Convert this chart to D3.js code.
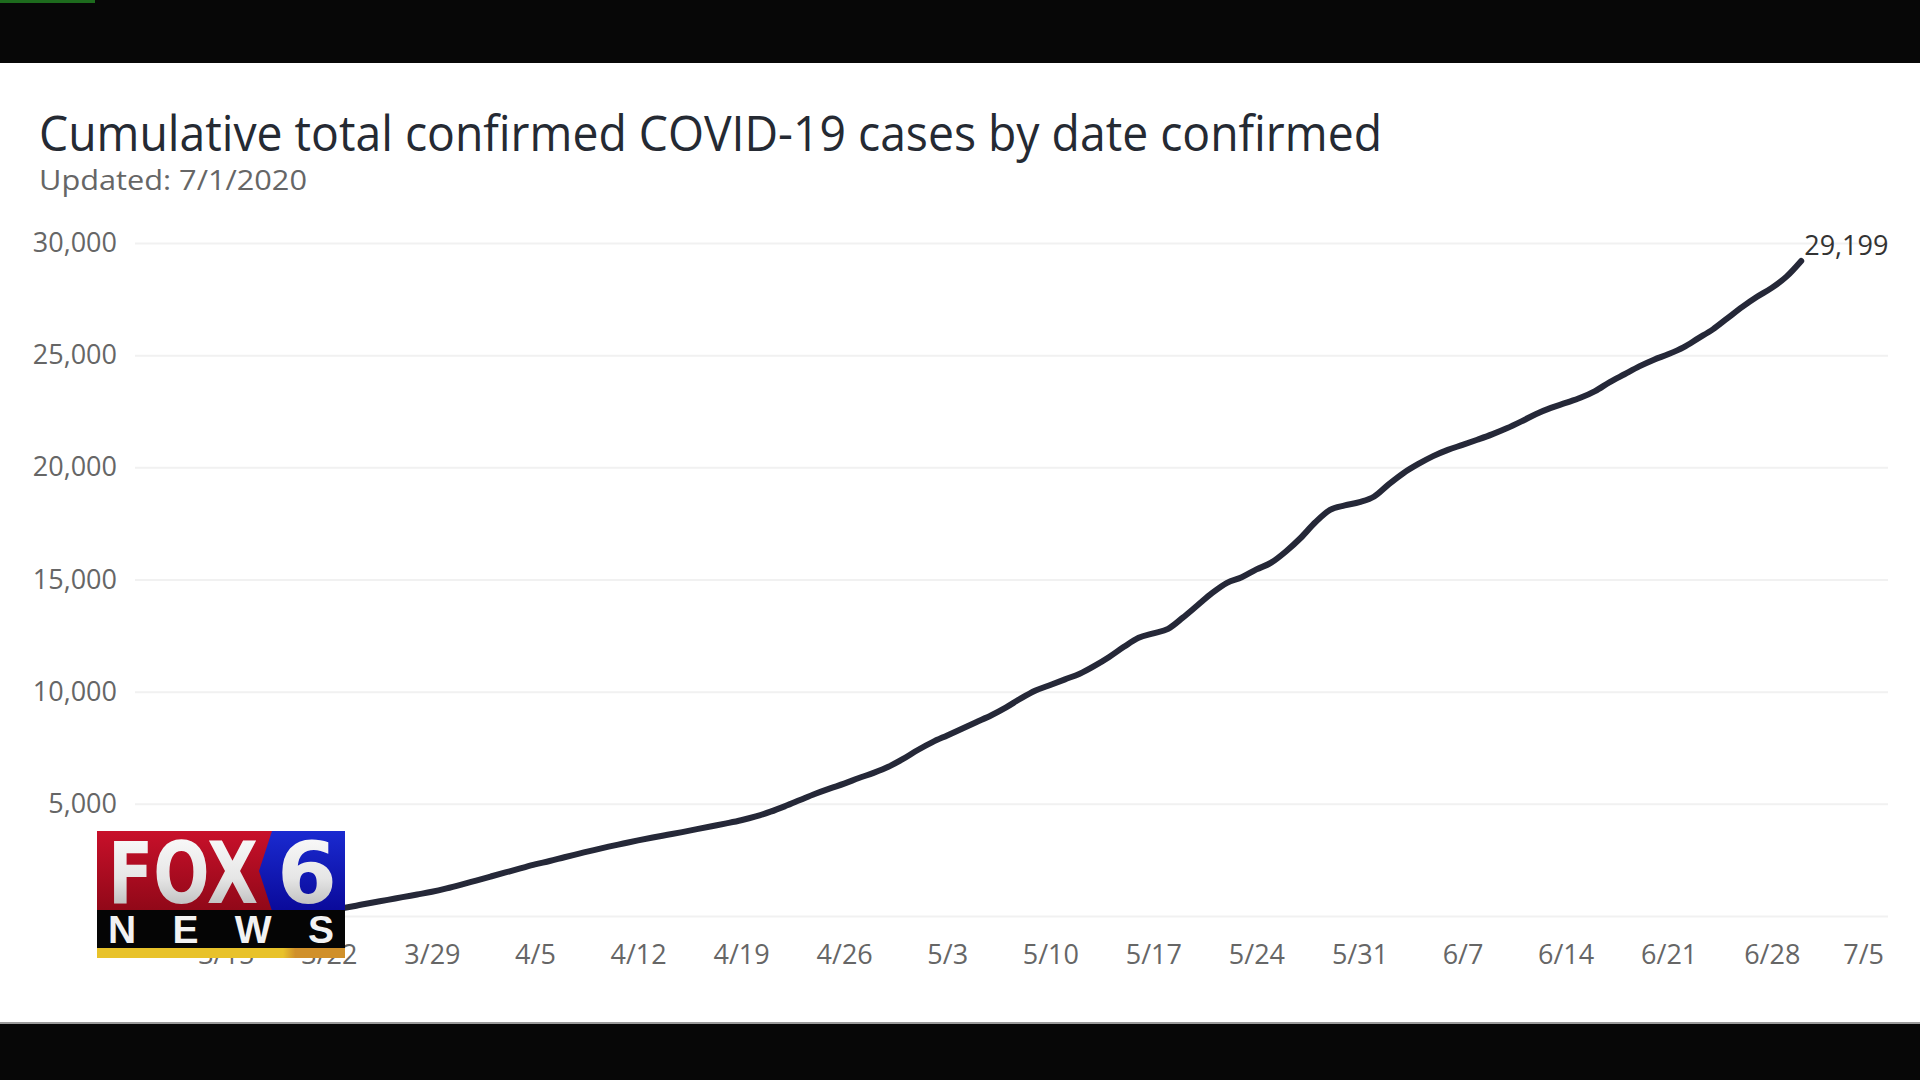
<!DOCTYPE html>
<html>
<head>
<meta charset="utf-8">
<script src="https://cdn.jsdelivr.net/npm/d3@7"></script>
<style>
  body { margin: 0; background: #ffffff; }
  svg { display: block; }
  .axis text { font-family: "Open Sans", sans-serif; font-size: 27px; fill: #666666; }
  .axis .domain { display: none; }
</style>
</head>
<body>
<script>
//chart data
var dates = ["3/9","3/10","3/11","3/12","3/13","3/14","3/15","3/16","3/17","3/18","3/19","3/20","3/21","3/22","3/23","3/24","3/25","3/26","3/27","3/28","3/29","3/30","3/31",
  "4/1","4/2","4/3","4/4","4/5","4/6","4/7","4/8","4/9","4/10","4/11","4/12","4/13","4/14","4/15","4/16","4/17","4/18","4/19","4/20","4/21","4/22","4/23","4/24","4/25","4/26","4/27","4/28","4/29","4/30",
  "5/1","5/2","5/3","5/4","5/5","5/6","5/7","5/8","5/9","5/10","5/11","5/12","5/13","5/14","5/15","5/16","5/17","5/18","5/19","5/20","5/21","5/22","5/23","5/24","5/25","5/26","5/27","5/28","5/29","5/30","5/31",
  "6/1","6/2","6/3","6/4","6/5","6/6","6/7","6/8","6/9","6/10","6/11","6/12","6/13","6/14","6/15","6/16","6/17","6/18","6/19","6/20","6/21","6/22","6/23","6/24","6/25","6/26","6/27","6/28","6/29","6/30"];
var cases = [5,8,12,20,30,45,65,90,120,155,195,240,285,320,360,480,600,720,840,960,1080,1230,1400,
  1580,1760,1940,2120,2300,2450,2620,2780,2940,3090,3230,3370,3500,3620,3740,3870,4000,4130,4270,4440,4650,4900,5170,5440,5680,5900,6150,6380,6650,7000,
  7400,7750,8050,8350,8650,8950,9300,9700,10050,10300,10550,10800,11150,11550,12000,12400,12600,12800,13300,13850,14400,14850,15100,15450,15750,16250,16850,17550,18100,18300,18450,
  18700,19250,19750,20150,20500,20780,21000,21230,21470,21740,22050,22380,22650,22870,23100,23400,23800,24150,24500,24800,25050,25350,25750,26150,26650,27150,27600,28000,28500,29199];
var yTicks = [0, 5000, 10000, 15000, 20000, 25000, 30000];
var titleText = "Cumulative total confirmed COVID-19 cases by date confirmed";
var subtitleText = "Updated: 7/1/2020";

window.onload = function(){
  var w = 1920, h = 1080;
  var parse = function(s){ var p = s.split("/"); return new Date(2020, +p[0] - 1, +p[1]); };
  var data = dates.map(function(d, i){ return {date: parse(d), value: cases[i]}; });
  var format = d3.format(",");

  var svg = d3.select("body").append("svg")
      .attr("width", w)
      .attr("height", h);

  //white page and the black video bars
  svg.append("rect").attr("width", w).attr("height", h).attr("fill", "#ffffff");
  svg.append("rect").attr("width", w).attr("height", 63).attr("fill", "#070707");
  svg.append("rect").attr("width", 95).attr("height", 3).attr("fill", "#1d6b1d");
  svg.append("rect").attr("y", 1022).attr("width", w).attr("height", 2).attr("fill", "#9a9a9a");
  svg.append("rect").attr("y", 1024).attr("width", w).attr("height", 56).attr("fill", "#070707");

  //scales
  var x = d3.scaleTime()
      .domain([new Date(2020, 2, 8, 20), new Date(2020, 6, 6, 4)])
      .range([135, 1892]);
  var y = d3.scaleLinear()
      .domain([0, 30000])
      .range([916, 243]);

  //title block
  svg.append("text")
      .attr("x", 39).attr("y", 151)
      .attr("font-family", "Open Sans, sans-serif")
      .attr("font-size", 49)
      .attr("fill", "#252a33")
      .attr("textLength", 1343)
      .attr("lengthAdjust", "spacingAndGlyphs")
      .text(titleText);
  svg.append("text")
      .attr("x", 39).attr("y", 190)
      .attr("font-family", "Open Sans, sans-serif")
      .attr("font-size", 28)
      .attr("fill", "#666666")
      .attr("textLength", 268)
      .attr("lengthAdjust", "spacingAndGlyphs")
      .text(subtitleText);

  //y axis with gridlines
  var yAxis = svg.append("g")
      .attr("class", "axis")
      .attr("transform", "translate(135,0)")
      .call(d3.axisLeft(y)
          .tickValues(yTicks)
          .tickSize(-(1888 - 135))
          .tickPadding(18)
          .tickFormat(format));
  yAxis.selectAll("line").attr("stroke", "#f1f1f1").attr("stroke-width", 2);

  //x axis, weekly labels
  var xAxis = svg.append("g")
      .attr("class", "axis")
      .attr("transform", "translate(0,916)")
      .call(d3.axisBottom(x)
          .ticks(d3.timeWeek.every(1))
          .tickSize(0)
          .tickPadding(29)
          .tickFormat(d3.timeFormat("%-m/%-d")));
  //keep the last label inside the plot
  xAxis.selectAll(".tick text").each(function(){
      var b = this.getBBox();
      var t = d3.select(this.parentNode).attr("transform");
      var tx = +t.match(/translate\(([-\d.]+)/)[1];
      if (tx + b.x + b.width > 1884) {
          d3.select(this).attr("x", 1884 - (tx + b.x + b.width));
      }
  });

  //the line
  var line = d3.line()
      .x(function(d){ return x(d.date); })
      .y(function(d){ return y(d.value); })
      .curve(d3.curveMonotoneX);
  svg.append("path")
      .datum(data)
      .attr("d", line)
      .attr("fill", "none")
      .attr("stroke", "#252838")
      .attr("stroke-width", 6)
      .attr("stroke-linecap", "round")
      .attr("stroke-linejoin", "round");

  //label on the last point
  var last = data[data.length - 1];
  svg.append("text")
      .attr("x", x(last.date) + 3)
      .attr("y", y(last.value) - 6)
      .attr("font-family", "Open Sans, sans-serif")
      .attr("font-size", 27)
      .attr("fill", "#333333")
      .text(format(last.value));

  //broadcast logo in the corner
  var defs = svg.append("defs");
  var gRed = defs.append("linearGradient").attr("id", "gRed").attr("x1", 0).attr("y1", 0).attr("x2", 0).attr("y2", 1);
  gRed.append("stop").attr("offset", "0").attr("stop-color", "#c8102a");
  gRed.append("stop").attr("offset", "1").attr("stop-color", "#900818");
  var gBlue = defs.append("linearGradient").attr("id", "gBlue").attr("x1", 0).attr("y1", 0).attr("x2", 0).attr("y2", 1);
  gBlue.append("stop").attr("offset", "0").attr("stop-color", "#1a2ad0");
  gBlue.append("stop").attr("offset", "1").attr("stop-color", "#0a0a9a");
  var gSilver = defs.append("linearGradient").attr("id", "gSilver").attr("x1", 0).attr("y1", 0).attr("x2", 0).attr("y2", 1);
  gSilver.append("stop").attr("offset", "0").attr("stop-color", "#ffffff");
  gSilver.append("stop").attr("offset", "0.55").attr("stop-color", "#e6e6e6");
  gSilver.append("stop").attr("offset", "1").attr("stop-color", "#a8a8a8");
  var gGold = defs.append("linearGradient").attr("id", "gGold").attr("x1", 0).attr("y1", 0).attr("x2", 1).attr("y2", 0);
  gGold.append("stop").attr("offset", "0").attr("stop-color", "#e8c22a");
  gGold.append("stop").attr("offset", "0.75").attr("stop-color", "#e8c22a");
  gGold.append("stop").attr("offset", "0.8").attr("stop-color", "#d0902a");
  gGold.append("stop").attr("offset", "1").attr("stop-color", "#d0902a");

  var logo = svg.append("g");
  logo.append("rect").attr("x", 97).attr("y", 831).attr("width", 248).attr("height", 80).attr("fill", "url(#gRed)");
  logo.append("polygon")
      .attr("points", "272,831 345,831 345,911 272,911 259,871")
      .attr("fill", "url(#gBlue)");
  logo.append("rect").attr("x", 97).attr("y", 910).attr("width", 248).attr("height", 39).attr("fill", "#050505");
  logo.append("rect").attr("x", 97).attr("y", 948).attr("width", 248).attr("height", 10).attr("fill", "url(#gGold)");
  logo.append("text")
      .attr("x", 108).attr("y", 903)
      .attr("font-family", "DejaVu Sans Condensed, DejaVu Sans, sans-serif")
      .attr("font-weight", "bold")
      .attr("font-size", 86)
      .attr("fill", "url(#gSilver)")
      .attr("textLength", 150)
      .attr("lengthAdjust", "spacingAndGlyphs")
      .text("FOX");
  logo.append("text")
      .attr("x", 277).attr("y", 903)
      .attr("font-family", "DejaVu Sans, sans-serif")
      .attr("font-weight", "bold")
      .attr("font-size", 86)
      .attr("fill", "url(#gSilver)")
      .attr("textLength", 60)
      .attr("lengthAdjust", "spacingAndGlyphs")
      .text("6");
  logo.append("text")
      .attr("x", 108).attr("y", 943)
      .attr("font-family", "Liberation Sans, Arial, sans-serif")
      .attr("font-weight", "bold")
      .attr("font-size", 39)
      .attr("fill", "#f2f2f2")
      .attr("textLength", 226)
      .attr("lengthAdjust", "spacing")
      .text("NEWS");
};
</script>
</body>
</html>
